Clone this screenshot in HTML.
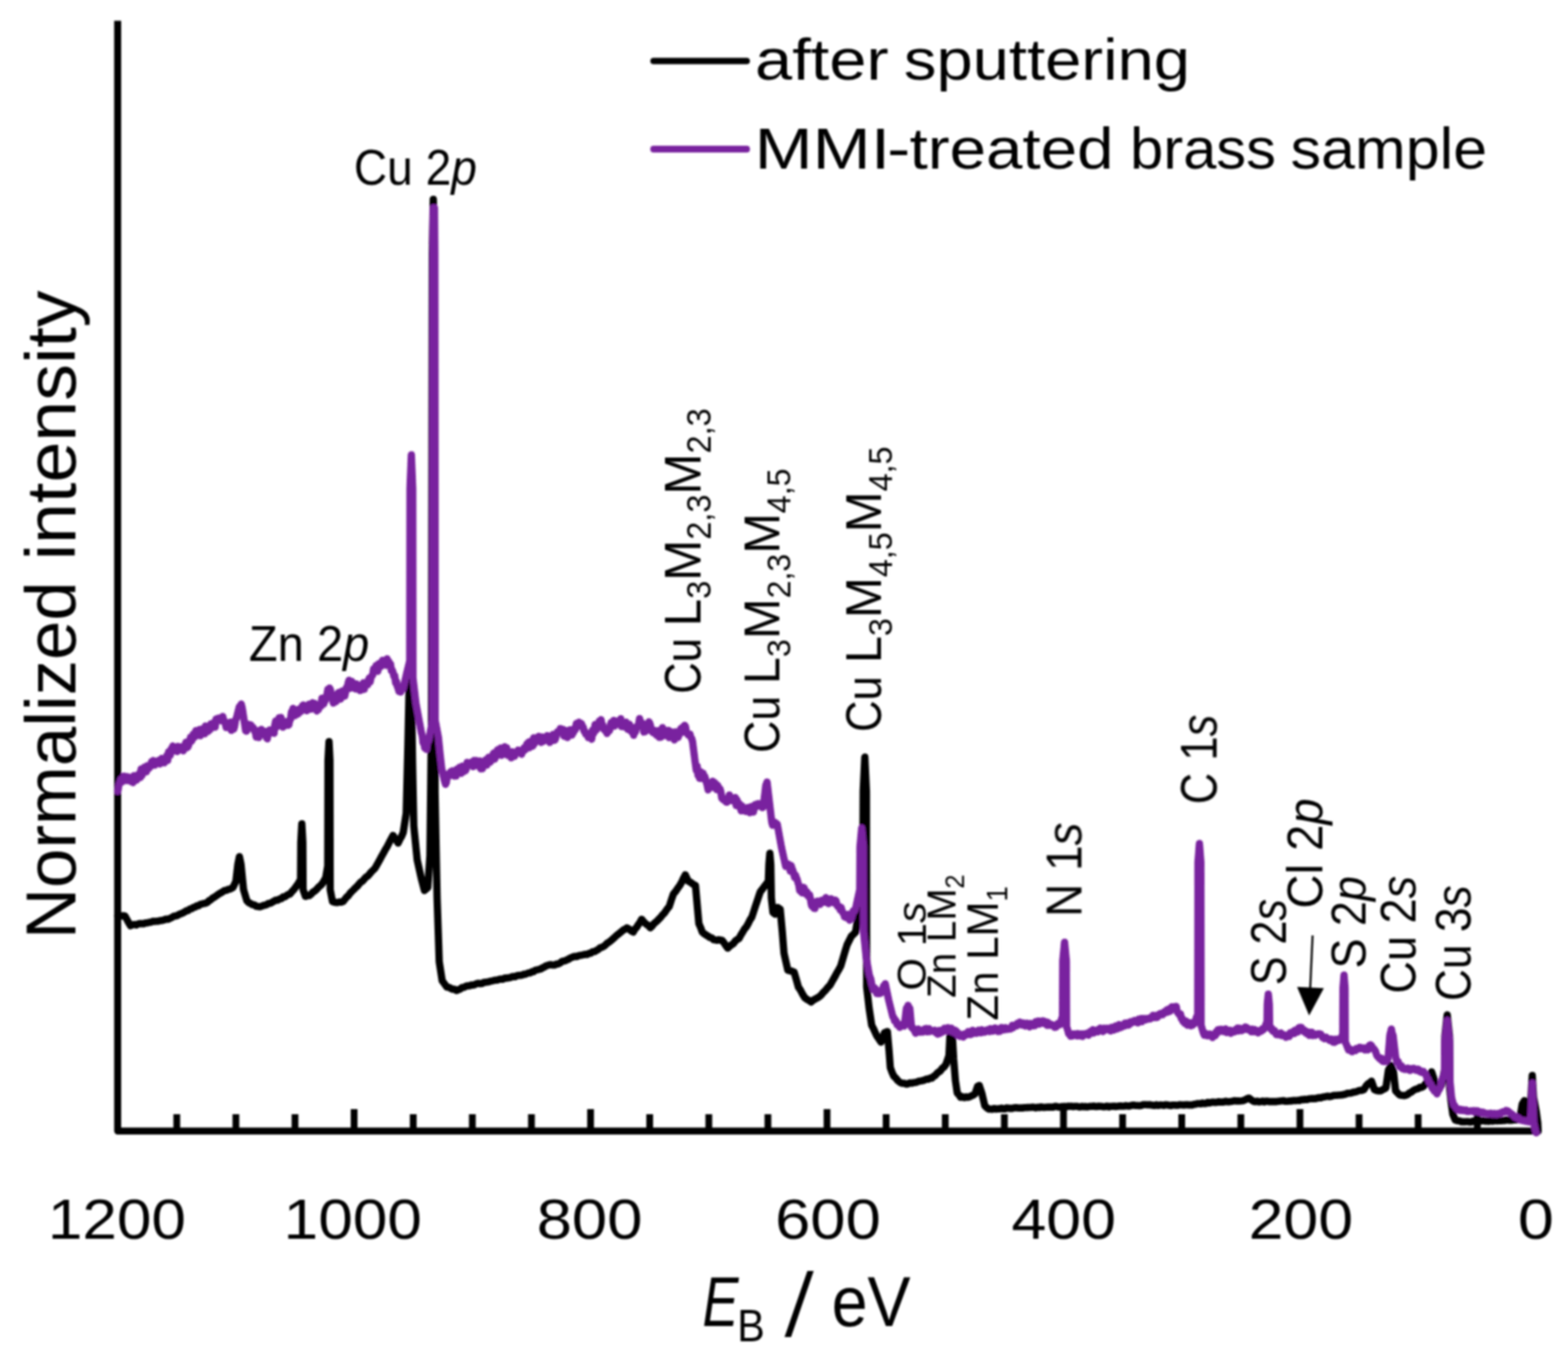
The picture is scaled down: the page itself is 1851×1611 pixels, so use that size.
<!DOCTYPE html>
<html lang="en"><head><meta charset="utf-8"><title>XPS survey spectra</title>
<style>html,body{margin:0;padding:0;background:#fff}body{width:1851px;height:1611px;overflow:hidden}svg{display:block}</style>
</head><body>
<svg width="1851" height="1611" viewBox="0 0 1851 1611">
<defs><filter id="soft" x="-2%" y="-2%" width="104%" height="104%"><feGaussianBlur stdDeviation="1.1"/></filter></defs>
<rect width="1851" height="1611" fill="#fff"/>
<g filter="url(#soft)">
<g font-family='"Liberation Sans", sans-serif' fill="#000">
<text transform="translate(891.24,94.40) scale(0.7892,0.6884)" font-size="100" xml:space="preserve">after</text>
<text transform="translate(1067.09,94.40) scale(0.7693,0.6884)" font-size="100" xml:space="preserve">sputtering</text>
<text transform="translate(890.71,198.50) scale(0.8243,0.6841)" font-size="100" xml:space="preserve">MMI</text>
<text transform="translate(1047.22,198.50) scale(0.8200,0.6841)" font-size="100" xml:space="preserve">-</text>
<text transform="translate(1073.75,198.50) scale(0.7739,0.6884)" font-size="100" xml:space="preserve">treated</text>
<text transform="translate(1334.07,198.50) scale(0.7043,0.6884)" font-size="100" xml:space="preserve">brass</text>
<text transform="translate(1523.54,198.50) scale(0.7194,0.6884)" font-size="100" xml:space="preserve">sample</text>
<text transform="translate(56.53,1462.00) scale(0.7333,0.6648)" font-size="100" xml:space="preserve">1200</text>
<text transform="translate(334.83,1462.00) scale(0.7338,0.6648)" font-size="100" xml:space="preserve">1000</text>
<text transform="translate(633.40,1462.00) scale(0.7503,0.6648)" font-size="100" xml:space="preserve">800</text>
<text transform="translate(914.96,1462.00) scale(0.7481,0.6648)" font-size="100" xml:space="preserve">600</text>
<text transform="translate(1193.92,1462.00) scale(0.7410,0.6648)" font-size="100" xml:space="preserve">400</text>
<text transform="translate(1474.00,1462.00) scale(0.7392,0.6648)" font-size="100" xml:space="preserve">200</text>
<text transform="translate(1791.73,1462.00) scale(0.7667,0.6648)" font-size="100" xml:space="preserve">0</text>
<text transform="translate(829.28,1565.00) scale(0.6385,0.8304)" font-size="100" xml:space="preserve"><tspan font-style="italic">E</tspan></text>
<text transform="translate(870.29,1583.00) scale(0.4887,0.5435)" font-size="100" xml:space="preserve">B</text>
<text transform="translate(926.20,1576.54) scale(0.9714,1.0630) skewX(-6)" font-size="100" xml:space="preserve">/</text>
<text transform="translate(981.65,1565.00) scale(0.7636,0.8304)" font-size="100" xml:space="preserve">eV</text>
<text transform="translate(89.40,1108.28) rotate(-90) scale(0.8350,0.8420)" font-size="100" xml:space="preserve">Normalized</text>
<text transform="translate(89.40,661.18) rotate(-90) scale(0.8680,0.8420)" font-size="100" xml:space="preserve">intensity</text>
<text transform="translate(417.78,218.00) scale(0.5444,0.5859)" font-size="100" xml:space="preserve">Cu 2<tspan font-style="italic">p</tspan></text>
<text transform="translate(293.83,780.30) scale(0.5562,0.5857)" font-size="100" xml:space="preserve">Zn 2<tspan font-style="italic">p</tspan></text>
<text transform="translate(826.50,819.09) rotate(-90) scale(0.5181,0.6056)" font-size="100" xml:space="preserve">Cu</text>
<text transform="translate(826.50,739.15) rotate(-90) scale(0.5817,0.6056)" font-size="100" xml:space="preserve"><tspan dy="0">L</tspan><tspan font-size="66" dy="21">3</tspan><tspan dy="-21">M</tspan><tspan font-size="66" dy="21">2,3</tspan><tspan dy="-21">M</tspan><tspan font-size="66" dy="21">2,3</tspan></text>
<text transform="translate(920.00,888.75) rotate(-90) scale(0.5293,0.5972)" font-size="100" xml:space="preserve">Cu</text>
<text transform="translate(920.00,807.40) rotate(-90) scale(0.5755,0.5972)" font-size="100" xml:space="preserve"><tspan dy="0">L</tspan><tspan font-size="66" dy="21">3</tspan><tspan dy="-21">M</tspan><tspan font-size="66" dy="21">2,3</tspan><tspan dy="-21">M</tspan><tspan font-size="66" dy="21">4,5</tspan></text>
<text transform="translate(1040.20,864.09) rotate(-90) scale(0.5181,0.5972)" font-size="100" xml:space="preserve">Cu</text>
<text transform="translate(1040.20,782.83) rotate(-90) scale(0.5785,0.5972)" font-size="100" xml:space="preserve"><tspan dy="0">L</tspan><tspan font-size="66" dy="21">3</tspan><tspan dy="-21">M</tspan><tspan font-size="66" dy="21">4,5</tspan><tspan dy="-21">M</tspan><tspan font-size="66" dy="21">4,5</tspan></text>
<text transform="translate(1093.00,1169.07) rotate(-90) scale(0.4946,0.4789)" font-size="100" xml:space="preserve">O 1<tspan font-style="italic">s</tspan></text>
<text transform="translate(1128.00,1177.67) rotate(-90) scale(0.4551,0.4797)" font-size="100" xml:space="preserve"><tspan dy="0">Zn LM</tspan><tspan font-size="66" dy="21">2</tspan></text>
<text transform="translate(1178.00,1204.39) rotate(-90) scale(0.4959,0.5261)" font-size="100" xml:space="preserve"><tspan dy="0">Zn LM</tspan><tspan font-size="66" dy="21">1</tspan></text>
<text transform="translate(1276.40,1082.14) rotate(-90) scale(0.5421,0.5957)" font-size="100" xml:space="preserve">N 1<tspan font-style="italic">s</tspan></text>
<text transform="translate(1436.20,949.17) rotate(-90) scale(0.5141,0.6042)" font-size="100" xml:space="preserve">C 1<tspan font-style="italic">s</tspan></text>
<text transform="translate(1518.20,1162.74) rotate(-90) scale(0.5083,0.5873)" font-size="100" xml:space="preserve">S 2<tspan font-style="italic">s</tspan></text>
<text transform="translate(1561.00,1072.29) rotate(-90) scale(0.5573,0.5944)" font-size="100" xml:space="preserve">Cl 2<tspan font-style="italic">p</tspan></text>
<text transform="translate(1612.00,1142.95) rotate(-90) scale(0.5294,0.5775)" font-size="100" xml:space="preserve">S 2<tspan font-style="italic">p</tspan></text>
<text transform="translate(1670.60,1172.76) rotate(-90) scale(0.5327,0.6014)" font-size="100" xml:space="preserve">Cu 2<tspan font-style="italic">s</tspan></text>
<text transform="translate(1736.00,1181.42) rotate(-90) scale(0.5232,0.5944)" font-size="100" xml:space="preserve">Cu 3<tspan font-style="italic">s</tspan></text>
</g>
<path d="M1549.5,1104 L1546.6,1168" stroke="#000" stroke-width="2.4" fill="none"/>
<path d="M1531.2,1164.7 L1562.8,1166.3 L1545.4,1198.5 Z" fill="#000"/>
<path d="M138.9,24.5 V1334.8 H1817.6000000000001" fill="none" stroke="#000" stroke-width="8.3" stroke-linejoin="round" stroke-linecap="butt"/>
<path d="M208.68,1334.8 V1315 M278.47,1334.8 V1315 M348.25,1334.8 V1315 M418.03,1334.8 V1309 M487.82,1334.8 V1315 M557.60,1334.8 V1315 M627.38,1334.8 V1315 M697.17,1334.8 V1309 M766.95,1334.8 V1315 M836.73,1334.8 V1315 M906.52,1334.8 V1315 M976.30,1334.8 V1309 M1046.08,1334.8 V1315 M1115.87,1334.8 V1315 M1185.65,1334.8 V1315 M1255.43,1334.8 V1309 M1325.22,1334.8 V1315 M1395.00,1334.8 V1315 M1464.78,1334.8 V1315 M1534.57,1334.8 V1309 M1604.35,1334.8 V1315 M1674.13,1334.8 V1315 M1743.92,1334.8 V1315 " fill="none" stroke="#000" stroke-width="8"/>
<path d="M139.0,1081.0 L141.1,1080.7 L143.2,1081.1 L145.4,1080.8 L147.5,1081.0 L149.7,1085.0 L151.8,1088.8 L154.0,1092.5 L156.2,1091.6 L158.5,1091.1 L160.8,1091.7 L163.0,1090.5 L165.2,1090.1 L167.5,1090.0 L169.6,1090.2 L171.8,1089.3 L173.9,1089.3 L176.1,1088.5 L178.2,1088.4 L180.4,1087.4 L182.5,1087.5 L184.6,1087.3 L186.8,1087.2 L188.9,1086.5 L191.1,1086.4 L193.2,1085.9 L195.4,1084.8 L197.5,1085.0 L199.5,1084.5 L201.5,1083.5 L203.5,1082.4 L205.5,1081.2 L207.5,1081.0 L209.6,1080.4 L211.7,1079.0 L213.8,1078.3 L215.8,1077.5 L217.9,1076.3 L220.0,1075.0 L222.1,1074.5 L224.2,1072.9 L226.2,1072.4 L228.3,1070.9 L230.4,1070.5 L232.5,1069.0 L234.5,1068.9 L236.5,1067.3 L238.5,1066.8 L240.5,1066.3 L242.5,1066.0 L244.6,1065.1 L246.7,1063.1 L248.8,1061.9 L250.8,1060.1 L252.9,1058.9 L255.0,1057.5 L257.0,1056.1 L259.0,1054.7 L261.0,1053.7 L263.0,1052.4 L265.0,1051.0 L267.0,1050.8 L269.0,1049.8 L271.0,1049.4 L273.0,1048.6 L275.0,1047.5 L278.5,1040.0 L280.8,1020.0 L282.6,1011.0 L284.5,1020.0 L287.5,1050.0 L291.4,1063.0 L293.4,1065.1 L295.5,1066.2 L297.5,1067.5 L300.0,1067.9 L302.5,1069.6 L305.0,1070.0 L307.0,1070.1 L309.0,1069.5 L311.0,1068.6 L313.0,1068.3 L315.0,1067.5 L317.1,1066.2 L319.3,1066.0 L321.4,1064.8 L323.6,1063.5 L325.7,1062.3 L327.9,1062.4 L330.0,1061.0 L332.1,1060.6 L334.2,1058.5 L336.2,1058.4 L338.3,1056.9 L340.4,1055.6 L342.5,1055.0 L344.7,1052.1 L346.8,1050.0 L349.0,1047.0 L351.9,1042.9 L354.8,1038.0 L355.1,994.2 L356.3,972.2 L357.5,994.2 L357.8,1050.0 L360.6,1058.0 L362.8,1057.0 L365.0,1057.0 L367.2,1055.3 L369.4,1052.8 L371.6,1051.7 L373.8,1049.6 L376.2,1046.9 L378.6,1045.0 L381.0,1042.0 L384.5,1036.0 L386.9,1022.0 L387.2,897.2 L388.4,875.2 L389.5,897.2 L389.8,1050.0 L392.5,1064.0 L396.0,1065.0 L398.2,1065.3 L400.5,1064.5 L402.8,1064.8 L405.0,1064.0 L407.1,1061.4 L409.2,1058.8 L411.2,1057.1 L413.3,1054.1 L415.4,1052.0 L417.5,1050.0 L419.6,1047.8 L421.7,1046.0 L423.8,1043.3 L425.8,1041.1 L427.9,1040.0 L430.0,1037.5 L432.1,1035.2 L434.2,1033.9 L436.2,1031.7 L438.3,1029.0 L440.4,1027.0 L442.5,1025.0 L444.6,1021.3 L446.7,1017.7 L448.8,1013.9 L450.8,1010.1 L452.9,1006.4 L455.0,1002.5 L457.2,998.9 L459.5,994.3 L461.8,990.0 L464.0,986.0 L466.0,989.3 L468.0,991.7 L470.0,995.0 L472.0,990.6 L474.0,987.2 L476.0,982.5 L479.5,960.0 L481.5,880.0 L483.0,810.0 L485.5,800.0 L487.0,900.0 L488.5,975.0 L492.5,1015.0 L497.5,1037.5 L501.0,1051.0 L503.0,1049.3 L505.0,1047.5 L507.5,1010.0 L509.4,850.0 L510.3,300.0 L511.5,235.2 L512.7,300.0 L513.6,935.0 L516.0,1060.0 L518.5,1135.0 L522.0,1157.5 L524.8,1161.3 L527.5,1165.0 L529.8,1165.2 L532.1,1166.5 L534.4,1167.5 L536.7,1167.6 L539.0,1169.0 L541.2,1168.1 L543.4,1167.2 L545.6,1165.5 L547.8,1165.2 L550.0,1164.0 L552.1,1163.5 L554.2,1163.4 L556.2,1162.6 L558.3,1162.6 L560.4,1162.2 L562.5,1160.9 L564.6,1160.6 L566.7,1160.9 L568.8,1160.8 L570.8,1159.5 L572.9,1159.4 L575.0,1159.0 L577.1,1158.7 L579.2,1158.0 L581.2,1157.6 L583.3,1157.1 L585.4,1156.8 L587.5,1156.6 L589.6,1155.8 L591.7,1155.5 L593.8,1155.6 L595.8,1154.3 L597.9,1154.5 L600.0,1154.0 L602.0,1153.9 L604.0,1153.0 L606.0,1152.5 L608.0,1152.8 L610.0,1151.7 L612.0,1151.2 L614.0,1151.1 L616.0,1151.0 L618.0,1149.9 L620.0,1150.0 L622.0,1149.0 L624.0,1148.3 L626.0,1148.2 L628.0,1146.9 L630.0,1146.7 L632.0,1145.1 L634.0,1144.6 L636.0,1144.2 L638.0,1143.7 L640.0,1142.5 L642.5,1141.3 L645.0,1139.8 L647.5,1139.0 L650.0,1138.5 L652.5,1139.0 L655.0,1139.0 L657.0,1137.7 L659.0,1137.6 L661.0,1136.7 L663.0,1135.0 L665.0,1134.2 L667.0,1134.0 L669.0,1132.9 L671.0,1132.2 L673.0,1130.7 L675.0,1130.0 L677.0,1129.1 L679.1,1128.8 L681.1,1129.0 L683.2,1127.9 L685.2,1127.5 L687.3,1127.2 L689.3,1126.7 L691.4,1126.3 L693.4,1126.4 L695.5,1125.0 L697.5,1125.0 L699.7,1123.2 L701.9,1123.0 L704.1,1121.7 L706.2,1120.6 L708.4,1118.7 L710.6,1118.0 L712.8,1116.8 L715.0,1115.0 L717.1,1112.9 L719.3,1111.7 L721.4,1110.0 L723.6,1108.1 L725.7,1106.1 L727.9,1104.0 L730.0,1102.5 L732.0,1100.8 L734.0,1099.2 L736.0,1097.5 L738.0,1096.6 L740.0,1095.0 L742.5,1096.4 L745.0,1098.7 L747.5,1100.0 L749.5,1096.5 L751.5,1094.5 L753.5,1091.2 L755.5,1088.5 L757.5,1085.0 L759.5,1087.5 L761.5,1089.5 L763.5,1091.1 L765.5,1092.4 L767.5,1095.0 L769.6,1093.2 L771.7,1090.4 L773.8,1088.5 L775.8,1086.9 L777.9,1084.6 L780.0,1082.5 L782.0,1079.9 L784.0,1078.0 L786.0,1075.1 L788.0,1072.3 L790.0,1070.0 L792.5,1062.2 L795.0,1055.0 L797.5,1052.1 L800.0,1048.3 L802.5,1045.0 L804.7,1041.2 L806.8,1036.5 L809.0,1032.5 L812.5,1040.0 L814.6,1040.9 L816.8,1042.5 L818.9,1044.1 L821.0,1045.0 L825.0,1090.0 L827.0,1094.6 L829.0,1100.0 L831.2,1101.9 L833.5,1103.5 L835.8,1104.9 L838.0,1106.4 L840.2,1106.9 L842.5,1109.0 L844.5,1109.4 L846.5,1109.8 L848.5,1109.1 L850.5,1109.5 L852.5,1110.0 L854.7,1112.7 L856.8,1116.0 L859.0,1119.0 L861.2,1117.0 L863.5,1115.1 L865.8,1113.6 L868.0,1110.7 L870.2,1108.9 L872.5,1107.5 L874.6,1103.5 L876.8,1099.9 L878.9,1096.3 L881.1,1093.8 L883.2,1090.1 L885.4,1085.6 L887.5,1082.5 L889.5,1076.5 L891.5,1070.3 L893.5,1064.3 L895.5,1058.3 L897.5,1052.5 L899.7,1049.8 L901.8,1046.9 L904.0,1044.0 L907.0,1040.0 L907.7,1020.0 L908.8,1007.0 L909.9,1020.0 L910.6,1060.0 L912.5,1077.0 L915.0,1079.0 L918.0,1071.0 L921.0,1073.0 L923.5,1100.0 L925.5,1125.0 L930.0,1145.0 L932.5,1145.7 L935.0,1146.3 L937.5,1147.5 L940.0,1156.0 L942.5,1165.0 L945.0,1168.7 L947.5,1173.4 L950.0,1177.5 L952.5,1179.4 L955.0,1180.7 L957.5,1182.5 L959.5,1180.7 L961.5,1179.5 L963.5,1178.4 L965.5,1177.4 L967.5,1176.0 L969.6,1174.1 L971.7,1171.4 L973.8,1169.6 L975.8,1167.1 L977.9,1164.7 L980.0,1162.5 L982.1,1158.6 L984.2,1155.0 L986.2,1151.5 L988.3,1147.4 L990.4,1144.0 L992.5,1140.0 L995.0,1131.6 L997.5,1123.0 L1000.0,1115.0 L1002.5,1110.0 L1005.0,1105.0 L1007.5,1102.7 L1010.0,1100.0 L1014.0,1075.0 L1017.0,1040.0 L1018.7,1000.0 L1019.0,933.6 L1020.9,893.6 L1022.8,933.6 L1023.1,1165.0 L1026.0,1190.0 L1029.0,1210.0 L1031.0,1213.7 L1033.0,1218.2 L1035.0,1222.5 L1037.5,1226.2 L1040.0,1230.0 L1042.0,1225.0 L1044.0,1219.0 L1047.5,1217.5 L1049.5,1240.0 L1051.0,1260.0 L1053.0,1265.5 L1055.0,1270.0 L1057.5,1272.3 L1060.0,1275.5 L1062.5,1277.5 L1065.0,1278.5 L1067.5,1278.5 L1070.0,1279.5 L1072.1,1279.0 L1074.3,1278.0 L1076.4,1278.4 L1078.6,1277.7 L1080.7,1277.5 L1082.9,1276.9 L1085.0,1276.0 L1087.1,1275.7 L1089.3,1275.3 L1091.4,1274.6 L1093.6,1273.5 L1095.7,1273.6 L1097.9,1272.4 L1100.0,1272.5 L1102.0,1270.4 L1104.0,1269.4 L1106.0,1266.9 L1108.0,1265.2 L1110.0,1264.0 L1112.3,1260.9 L1114.5,1259.1 L1116.8,1256.0 L1120.2,1246.0 L1121.3,1224.0 L1122.8,1214.5 L1124.3,1224.0 L1125.8,1250.0 L1127.8,1275.0 L1130.0,1290.0 L1132.0,1292.1 L1134.0,1295.0 L1136.1,1294.4 L1138.2,1295.4 L1140.4,1294.5 L1142.5,1295.0 L1144.6,1294.4 L1146.8,1293.2 L1148.9,1292.4 L1151.0,1291.0 L1154.0,1282.0 L1156.0,1281.0 L1159.0,1290.0 L1162.5,1305.0 L1165.0,1307.5 L1167.5,1309.0 L1169.6,1309.0 L1171.7,1309.2 L1173.8,1308.2 L1175.8,1309.0 L1177.9,1308.6 L1180.0,1308.8 L1182.1,1307.9 L1184.2,1308.6 L1186.2,1308.8 L1188.3,1307.6 L1190.4,1307.9 L1192.5,1308.1 L1194.6,1308.3 L1196.7,1307.5 L1198.8,1307.4 L1200.8,1307.4 L1202.9,1307.7 L1205.0,1307.5 L1207.0,1307.7 L1209.0,1307.3 L1211.0,1307.2 L1213.0,1307.1 L1215.0,1307.0 L1217.0,1307.0 L1219.0,1306.6 L1221.0,1307.0 L1223.0,1307.5 L1225.0,1306.8 L1227.0,1307.1 L1229.0,1306.4 L1231.0,1306.9 L1233.0,1307.0 L1235.0,1306.8 L1237.0,1306.6 L1239.0,1306.5 L1241.0,1306.6 L1243.0,1306.8 L1245.0,1305.9 L1247.0,1305.8 L1249.0,1306.5 L1251.0,1306.6 L1253.0,1306.1 L1255.0,1306.0 L1257.0,1305.9 L1259.0,1306.3 L1261.0,1305.6 L1263.0,1305.7 L1265.0,1305.6 L1267.0,1306.1 L1269.0,1305.8 L1271.0,1305.7 L1273.0,1306.2 L1275.0,1306.5 L1277.0,1305.8 L1279.0,1306.2 L1281.0,1305.9 L1283.0,1306.4 L1285.0,1306.1 L1287.0,1305.7 L1289.0,1305.7 L1291.0,1305.4 L1293.0,1306.0 L1295.0,1305.9 L1297.0,1305.6 L1299.0,1305.8 L1301.0,1305.8 L1303.0,1306.3 L1305.0,1306.0 L1307.0,1305.5 L1309.0,1306.4 L1311.0,1305.7 L1313.0,1305.8 L1315.0,1305.6 L1317.0,1305.9 L1319.0,1305.8 L1321.0,1305.4 L1323.0,1305.3 L1325.0,1305.5 L1327.0,1305.5 L1329.0,1304.9 L1331.0,1305.2 L1333.0,1305.4 L1335.0,1304.8 L1337.0,1304.4 L1339.0,1304.3 L1341.0,1304.8 L1343.0,1304.7 L1345.0,1305.0 L1347.0,1304.7 L1349.0,1303.9 L1351.0,1303.8 L1353.0,1303.8 L1355.0,1304.0 L1357.1,1303.7 L1359.2,1304.3 L1361.2,1304.6 L1363.3,1304.6 L1365.4,1303.9 L1367.5,1304.7 L1369.6,1304.1 L1371.7,1304.2 L1373.8,1304.6 L1375.8,1303.9 L1377.9,1304.0 L1380.0,1304.5 L1382.1,1304.9 L1384.2,1304.2 L1386.2,1304.2 L1388.3,1304.4 L1390.4,1304.5 L1392.5,1303.7 L1394.6,1304.0 L1396.7,1304.1 L1398.8,1304.1 L1400.8,1303.7 L1402.9,1304.1 L1405.0,1304.0 L1407.1,1304.3 L1409.2,1303.4 L1411.2,1303.3 L1413.3,1302.5 L1415.4,1302.5 L1417.5,1302.7 L1419.6,1301.8 L1421.7,1302.5 L1423.8,1302.2 L1425.8,1301.0 L1427.9,1301.8 L1430.0,1301.0 L1432.1,1300.7 L1434.2,1301.1 L1436.2,1301.0 L1438.3,1300.3 L1440.4,1300.7 L1442.5,1300.5 L1444.6,1300.6 L1446.7,1299.8 L1448.8,1300.3 L1450.8,1300.4 L1452.9,1300.0 L1455.0,1299.7 L1457.1,1299.1 L1459.2,1299.4 L1461.2,1299.2 L1463.3,1299.5 L1465.4,1299.3 L1467.5,1299.0 L1469.8,1298.1 L1472.2,1296.6 L1474.5,1296.0 L1477.2,1298.2 L1480.0,1300.0 L1482.1,1300.2 L1484.2,1299.6 L1486.2,1300.5 L1488.3,1300.2 L1490.4,1299.5 L1492.5,1300.5 L1494.6,1299.6 L1496.7,1299.8 L1498.8,1300.3 L1500.8,1300.1 L1502.9,1300.1 L1505.0,1300.0 L1507.1,1300.1 L1509.2,1299.8 L1511.2,1299.5 L1513.3,1299.3 L1515.4,1299.1 L1517.5,1299.8 L1519.6,1299.7 L1521.7,1299.4 L1523.8,1299.5 L1525.8,1299.0 L1527.9,1298.8 L1530.0,1299.0 L1532.1,1298.6 L1534.2,1298.9 L1536.2,1297.7 L1538.3,1298.0 L1540.4,1297.4 L1542.5,1297.8 L1544.6,1297.1 L1546.7,1296.8 L1548.8,1296.6 L1550.8,1296.5 L1552.9,1296.6 L1555.0,1296.0 L1557.1,1295.5 L1559.2,1295.8 L1561.2,1294.7 L1563.3,1294.6 L1565.4,1294.1 L1567.5,1293.8 L1569.6,1294.3 L1571.7,1293.9 L1573.8,1293.0 L1575.8,1292.7 L1577.9,1292.7 L1580.0,1292.5 L1582.1,1292.4 L1584.3,1292.2 L1586.4,1291.7 L1588.6,1291.2 L1590.7,1290.3 L1592.9,1290.2 L1595.0,1290.0 L1597.1,1289.1 L1599.3,1288.9 L1601.4,1288.4 L1603.6,1287.4 L1605.7,1286.8 L1607.9,1286.9 L1610.0,1286.0 L1612.5,1281.9 L1615.0,1279.0 L1617.0,1277.9 L1619.0,1276.0 L1622.5,1286.0 L1625.0,1287.0 L1627.5,1287.5 L1630.0,1287.5 L1632.0,1286.2 L1634.0,1285.2 L1636.0,1284.0 L1639.0,1263.0 L1642.0,1257.5 L1645.0,1265.0 L1647.5,1287.5 L1650.0,1290.1 L1652.5,1292.5 L1655.0,1292.7 L1657.5,1293.1 L1660.0,1292.5 L1662.0,1291.4 L1664.0,1289.7 L1666.0,1289.0 L1668.0,1287.3 L1670.0,1286.0 L1672.0,1285.4 L1674.0,1284.9 L1676.0,1283.3 L1678.0,1283.5 L1680.0,1282.5 L1682.0,1280.2 L1684.0,1277.5 L1686.0,1275.0 L1688.0,1270.0 L1690.0,1265.0 L1692.5,1272.5 L1696.0,1290.0 L1698.0,1286.6 L1700.0,1283.0 L1702.0,1280.0 L1705.4,1262.0 L1705.7,1222.8 L1708.4,1197.8 L1711.1,1222.8 L1711.4,1285.0 L1713.0,1300.0 L1715.0,1315.0 L1718.0,1322.0 L1720.3,1322.7 L1722.7,1322.8 L1725.0,1324.0 L1727.0,1323.9 L1729.0,1324.0 L1731.0,1323.7 L1733.0,1323.8 L1735.0,1324.2 L1737.0,1324.1 L1739.0,1323.1 L1741.0,1323.8 L1743.0,1323.5 L1745.0,1322.8 L1747.0,1323.1 L1749.0,1322.9 L1751.0,1322.6 L1753.0,1323.1 L1755.0,1323.0 L1757.1,1323.4 L1759.2,1322.6 L1761.2,1323.2 L1763.3,1322.9 L1765.4,1322.1 L1767.5,1322.9 L1769.6,1322.5 L1771.7,1322.8 L1773.8,1322.5 L1775.8,1322.5 L1777.9,1321.9 L1780.0,1322.0 L1782.0,1322.2 L1784.0,1322.2 L1786.0,1322.0 L1788.0,1321.4 L1790.0,1321.6 L1792.0,1321.1 L1794.0,1321.0 L1797.0,1303.0 L1799.5,1299.0 L1801.5,1315.0 L1805.0,1315.0 L1807.3,1295.0 L1808.8,1269.2 L1810.3,1295.0 L1813.5,1312.0 L1815.3,1325.0 L1815.8,1335.0" fill="none" stroke="#000" stroke-width="8.6" stroke-linejoin="round" stroke-linecap="round"/>
<path d="M139.0,934.0 L140.5,926.0 L141.6,922.8 L142.8,919.5 L143.9,923.0 L145.0,920.0 L146.0,916.0 L147.0,920.9 L148.0,919.4 L149.0,916.6 L150.0,921.3 L151.0,916.9 L152.0,921.1 L153.0,917.7 L154.0,918.2 L155.0,922.5 L156.1,920.7 L157.1,923.6 L158.2,915.5 L159.3,915.5 L160.4,918.4 L161.4,920.6 L162.5,915.0 L163.5,915.0 L164.6,912.5 L165.6,917.6 L166.6,907.5 L167.6,914.9 L168.7,908.5 L169.7,906.3 L170.7,905.3 L171.8,906.4 L172.8,910.9 L173.8,903.7 L174.9,907.0 L175.9,906.9 L176.9,903.4 L177.9,904.5 L179.0,898.8 L180.0,902.5 L181.0,897.6 L182.0,898.6 L183.0,903.0 L184.0,900.0 L185.0,898.4 L186.0,900.8 L187.0,899.0 L188.0,897.0 L189.0,901.6 L190.0,900.2 L191.0,895.1 L192.0,898.1 L193.0,897.1 L194.0,900.3 L195.0,896.0 L196.0,897.2 L197.0,891.4 L198.0,897.4 L199.0,887.2 L200.0,889.1 L201.0,891.5 L202.0,884.0 L203.0,886.3 L204.0,880.4 L205.0,884.0 L206.0,885.5 L207.1,886.3 L208.1,884.1 L209.1,887.0 L210.1,880.9 L211.2,884.6 L212.2,883.3 L213.2,883.0 L214.3,881.4 L215.3,885.2 L216.3,886.1 L217.4,880.9 L218.4,882.7 L219.4,876.1 L220.4,882.6 L221.5,881.8 L222.5,880.0 L225.0,870.0 L226.0,874.8 L227.1,872.6 L228.1,866.4 L229.2,867.1 L230.2,869.7 L231.2,862.4 L232.3,866.7 L233.3,863.1 L234.4,862.1 L235.4,861.1 L236.5,868.3 L237.5,865.0 L238.5,860.3 L239.6,860.8 L240.6,861.6 L241.7,866.0 L242.7,856.7 L243.8,860.0 L244.8,860.3 L245.8,863.1 L246.9,861.7 L247.9,861.4 L249.0,854.3 L250.0,856.0 L251.0,854.4 L252.0,853.1 L253.0,858.1 L254.0,858.2 L255.0,848.7 L256.0,848.3 L257.0,848.2 L258.0,847.5 L259.0,849.5 L260.0,849.0 L261.0,850.6 L262.0,847.7 L263.0,845.6 L264.0,850.8 L265.0,850.9 L266.0,853.7 L267.0,858.6 L268.0,856.4 L269.0,855.2 L270.0,856.9 L271.0,858.2 L272.0,852.2 L273.0,862.0 L274.0,861.4 L275.0,859.0 L276.0,860.3 L277.0,856.7 L278.0,849.6 L279.0,848.0 L282.5,834.0 L283.7,833.5 L284.8,830.9 L286.0,836.0 L290.0,862.5 L291.0,862.9 L292.0,855.8 L293.0,854.8 L294.0,855.3 L295.0,857.5 L296.1,855.6 L297.1,859.3 L298.2,858.0 L299.3,859.3 L300.4,862.7 L301.4,864.0 L302.5,870.0 L303.5,867.3 L304.5,862.5 L305.5,870.4 L306.5,866.4 L307.5,864.0 L308.5,860.9 L309.5,862.7 L310.5,864.5 L311.5,865.3 L312.5,867.5 L313.5,863.2 L314.5,870.7 L315.5,872.0 L316.5,866.1 L317.5,866.1 L318.5,861.6 L319.5,861.5 L320.5,863.8 L321.5,862.7 L322.5,865.0 L323.5,865.5 L324.5,855.3 L325.5,850.8 L326.5,857.9 L327.5,850.0 L328.5,850.8 L329.6,847.1 L330.6,852.0 L331.7,846.8 L332.7,852.8 L333.8,858.2 L334.8,857.5 L335.8,856.1 L336.9,851.9 L337.9,853.6 L339.0,851.9 L340.0,856.0 L341.0,855.6 L342.0,849.6 L343.0,848.9 L344.0,840.5 L345.0,839.0 L346.0,836.0 L347.0,842.7 L348.0,844.7 L349.0,843.3 L350.0,842.9 L351.0,843.1 L352.0,842.4 L353.0,836.8 L354.0,840.1 L355.0,840.0 L356.0,837.5 L357.0,833.0 L358.0,832.1 L359.0,833.9 L360.0,832.8 L361.0,836.7 L362.0,838.8 L363.0,832.2 L364.0,836.8 L365.0,831.0 L366.0,836.9 L367.0,836.9 L368.0,830.7 L369.0,829.5 L370.0,830.0 L371.0,830.0 L372.0,830.5 L373.0,835.6 L374.0,839.1 L375.0,835.0 L376.0,837.5 L377.0,832.3 L378.0,833.0 L379.0,833.4 L380.0,824.1 L381.0,829.3 L382.0,830.9 L383.0,828.2 L384.0,826.6 L385.0,822.5 L386.0,819.6 L387.0,813.6 L388.0,817.9 L389.0,812.0 L390.2,814.4 L391.3,824.1 L392.5,825.0 L393.5,829.8 L394.6,822.8 L395.6,822.4 L396.7,828.0 L397.7,825.0 L398.8,818.3 L399.8,817.3 L400.8,817.0 L401.9,825.1 L402.9,823.5 L404.0,815.5 L405.0,819.0 L406.0,821.2 L407.0,821.5 L408.0,816.3 L409.0,811.3 L410.0,812.1 L411.0,805.8 L412.0,802.9 L413.0,812.4 L414.0,807.2 L415.0,804.0 L416.0,805.4 L417.0,811.2 L418.0,806.5 L419.0,812.7 L420.0,813.2 L421.0,807.3 L422.0,808.9 L423.0,810.4 L424.0,810.9 L425.0,815.0 L426.0,814.7 L427.0,809.7 L428.0,810.3 L429.0,805.8 L430.0,813.5 L431.0,805.8 L432.0,805.8 L433.0,806.0 L434.0,808.4 L435.0,802.5 L436.0,800.3 L437.0,804.8 L438.0,798.8 L439.0,797.9 L440.0,796.5 L441.0,789.4 L442.0,793.1 L443.0,788.8 L444.0,785.4 L445.0,790.0 L446.1,792.1 L447.1,783.3 L448.2,785.4 L449.3,786.9 L450.4,783.5 L451.4,779.4 L452.5,780.0 L453.6,780.8 L454.6,781.8 L455.7,785.1 L456.8,777.6 L457.9,783.6 L458.9,780.5 L460.0,784.0 L461.0,783.6 L462.0,791.7 L463.0,790.8 L464.0,793.7 L465.0,798.3 L466.0,797.5 L467.0,806.0 L468.0,804.2 L469.0,809.9 L470.0,812.4 L471.0,816.0 L472.0,815.4 L473.0,816.8 L474.0,813.4 L475.0,813.6 L476.0,812.5 L480.0,795.0 L483.7,780.0 L484.0,576.8 L485.6,536.8 L487.2,576.8 L487.5,800.0 L491.0,830.0 L497.5,865.0 L498.5,868.3 L499.5,876.7 L500.5,877.6 L501.5,883.0 L502.5,882.5 L503.5,884.5 L504.5,874.7 L505.5,875.3 L506.5,872.0 L510.6,850.0 L511.0,300.0 L511.4,245.3 L512.9,245.3 L513.3,300.0 L513.7,850.0 L517.5,870.0 L519.5,890.0 L521.5,907.5 L525.0,922.5 L526.0,925.6 L527.0,923.3 L528.0,915.0 L529.0,913.5 L530.0,916.0 L531.1,914.9 L532.1,910.7 L533.2,911.9 L534.3,909.7 L535.4,915.2 L536.4,915.9 L537.5,912.5 L538.5,915.8 L539.5,907.7 L540.5,912.7 L541.5,911.5 L542.5,905.6 L543.5,912.4 L544.5,912.6 L545.5,904.3 L546.5,911.1 L547.5,904.8 L548.5,905.0 L549.5,909.5 L550.5,907.2 L551.5,899.7 L552.5,902.5 L553.5,901.8 L554.5,902.7 L555.5,900.9 L556.5,899.4 L557.5,900.6 L558.5,904.8 L559.5,897.6 L560.5,903.1 L561.5,901.9 L562.5,897.6 L563.5,900.8 L564.5,903.8 L565.5,902.6 L566.5,898.1 L567.5,907.5 L568.5,905.4 L569.5,907.3 L570.5,898.5 L571.5,900.1 L572.5,902.5 L573.6,896.6 L574.6,902.9 L575.7,896.5 L576.8,893.8 L577.9,895.6 L578.9,899.5 L580.0,894.0 L581.0,896.7 L582.0,890.3 L583.0,888.6 L584.0,895.9 L585.0,891.7 L586.0,892.5 L587.0,885.5 L588.0,884.6 L589.0,890.6 L590.0,887.2 L591.0,882.9 L592.0,891.4 L593.0,887.6 L594.0,888.8 L595.0,885.0 L596.0,881.3 L597.1,890.0 L598.1,882.4 L599.2,891.3 L600.2,887.6 L601.2,887.1 L602.3,889.9 L603.3,894.4 L604.4,888.2 L605.4,887.4 L606.5,892.2 L607.5,892.5 L608.5,889.2 L609.6,887.2 L610.6,887.1 L611.7,885.3 L612.7,886.3 L613.8,886.8 L614.8,886.1 L615.8,890.2 L616.9,884.7 L617.9,886.3 L619.0,882.3 L620.0,885.0 L621.0,882.4 L622.0,877.9 L623.0,879.4 L624.0,875.9 L625.0,882.5 L626.0,879.5 L627.0,874.7 L628.0,876.7 L629.0,880.6 L630.0,870.8 L631.0,877.4 L632.0,872.3 L633.0,871.9 L634.0,874.6 L635.0,870.0 L636.0,869.1 L637.0,870.6 L638.0,872.8 L639.0,876.2 L640.0,869.7 L641.0,875.1 L642.0,874.1 L643.0,873.6 L644.0,871.4 L645.0,871.0 L646.0,868.2 L647.0,869.3 L648.0,868.9 L649.0,876.3 L650.0,874.0 L651.0,870.4 L652.1,868.5 L653.1,866.7 L654.2,873.8 L655.2,873.2 L656.2,870.1 L657.3,865.0 L658.3,863.6 L659.4,863.2 L660.4,864.0 L661.5,859.8 L662.5,862.5 L663.5,862.3 L664.6,860.8 L665.6,868.7 L666.7,869.2 L667.7,865.1 L668.8,862.3 L669.8,870.4 L670.8,863.8 L671.9,864.7 L672.9,861.3 L674.0,865.8 L675.0,867.5 L676.1,865.6 L677.1,864.2 L678.2,859.4 L679.3,861.0 L680.4,853.9 L681.4,855.1 L682.5,856.0 L683.5,852.4 L684.5,856.6 L685.5,853.6 L686.5,854.3 L687.5,858.2 L688.5,858.3 L689.5,863.0 L690.5,863.2 L691.5,866.5 L692.5,866.4 L693.5,867.8 L694.5,870.5 L695.5,866.1 L696.5,866.3 L697.5,869.0 L698.5,872.4 L699.5,861.6 L700.5,866.0 L701.5,863.3 L702.5,855.1 L703.5,861.8 L704.5,860.7 L705.5,856.0 L706.5,855.3 L707.5,851.0 L708.5,855.6 L709.5,849.4 L710.5,854.7 L711.5,855.6 L712.5,860.4 L713.5,861.2 L714.5,862.6 L715.5,861.1 L716.5,865.6 L717.5,862.5 L718.5,863.3 L719.5,862.3 L720.5,856.1 L721.5,852.8 L722.5,852.8 L723.5,854.1 L724.5,850.2 L725.5,857.0 L726.5,852.8 L727.5,851.0 L728.5,852.9 L729.6,853.5 L730.6,854.6 L731.7,853.1 L732.7,848.3 L733.8,857.5 L734.8,857.5 L735.8,855.4 L736.9,856.3 L737.9,858.1 L739.0,852.3 L740.0,857.5 L741.0,860.7 L742.0,856.1 L743.0,854.9 L744.0,857.6 L745.0,863.2 L746.0,858.2 L747.0,864.6 L748.0,867.8 L749.0,863.3 L750.0,864.0 L751.0,859.5 L752.0,857.4 L753.0,856.4 L754.0,854.1 L755.0,848.0 L756.0,852.5 L757.0,856.0 L758.0,853.0 L759.0,857.0 L760.0,864.0 L761.0,859.8 L762.0,863.4 L763.0,857.1 L764.0,858.3 L765.0,856.0 L766.0,851.9 L767.0,853.5 L768.0,857.0 L769.0,862.5 L770.0,863.8 L771.0,864.8 L772.0,861.8 L773.0,865.4 L774.0,866.0 L775.0,867.5 L776.0,866.6 L777.0,862.4 L778.0,870.2 L779.0,862.3 L780.0,870.1 L781.0,869.2 L782.0,858.8 L783.0,863.1 L784.0,866.4 L785.0,862.5 L786.0,868.2 L787.0,863.3 L788.0,862.0 L789.0,862.0 L790.0,870.5 L791.0,863.3 L792.0,867.9 L793.0,863.9 L794.0,868.6 L795.0,869.0 L796.1,873.3 L797.1,863.9 L798.2,870.7 L799.3,866.8 L800.4,870.3 L801.4,867.8 L802.5,865.0 L803.7,859.8 L804.8,864.6 L806.0,858.0 L807.1,859.4 L808.2,856.0 L809.2,857.4 L810.3,864.2 L811.4,865.4 L812.5,867.5 L813.5,866.9 L814.5,866.7 L815.5,870.3 L816.5,871.5 L817.5,875.0 L821.0,902.5 L822.0,909.3 L823.0,904.2 L824.0,915.1 L825.0,916.0 L826.0,918.7 L827.0,910.8 L828.0,918.2 L829.0,915.3 L830.0,912.5 L831.0,919.5 L832.0,916.4 L833.0,920.2 L834.0,923.4 L835.0,927.5 L836.0,932.3 L837.0,928.1 L838.0,925.7 L839.0,926.2 L840.0,924.5 L841.0,922.1 L842.0,922.5 L843.0,929.6 L844.0,924.0 L845.0,926.0 L846.0,931.9 L847.0,926.8 L848.0,928.7 L849.0,932.7 L850.0,931.2 L851.0,934.7 L852.0,942.0 L853.0,942.9 L854.0,943.9 L855.0,942.5 L856.0,943.8 L857.0,946.5 L858.0,946.7 L859.0,943.0 L860.0,944.6 L861.0,938.2 L862.0,944.7 L863.0,942.0 L864.0,944.9 L865.0,942.5 L866.0,944.9 L867.0,942.4 L868.0,941.2 L869.0,950.6 L870.0,943.9 L871.0,948.2 L872.0,948.0 L873.0,948.6 L874.0,953.8 L875.0,957.0 L876.0,951.2 L877.0,956.0 L878.0,953.6 L879.0,957.0 L880.0,957.5 L881.0,956.1 L882.1,953.5 L883.1,953.1 L884.2,953.1 L885.2,959.2 L886.2,955.0 L887.3,951.9 L888.3,958.0 L889.4,958.4 L890.4,952.9 L891.5,949.5 L892.5,952.5 L893.6,949.6 L894.6,948.6 L895.7,951.0 L896.8,948.6 L897.8,950.0 L898.9,950.2 L899.9,953.2 L901.0,952.5 L904.0,927.0 L905.5,923.0 L907.5,940.0 L911.0,970.0 L912.1,974.0 L913.2,973.1 L914.2,970.4 L915.3,970.9 L916.4,972.3 L917.5,972.5 L922.5,1000.0 L927.5,1022.5 L928.6,1021.8 L929.6,1021.9 L930.7,1019.9 L931.8,1022.1 L932.9,1028.2 L933.9,1021.5 L935.0,1025.0 L936.0,1027.5 L937.0,1031.1 L938.0,1035.5 L939.0,1032.7 L940.0,1035.6 L941.0,1038.0 L942.0,1041.7 L943.0,1044.6 L944.0,1051.1 L945.0,1050.0 L946.1,1053.1 L947.1,1053.7 L948.2,1047.3 L949.3,1047.7 L950.4,1053.4 L951.4,1055.3 L952.5,1052.5 L953.6,1054.8 L954.6,1058.2 L955.7,1056.1 L956.8,1061.7 L957.9,1068.3 L958.9,1070.0 L960.0,1070.0 L961.0,1072.0 L962.0,1072.1 L963.0,1065.8 L964.0,1064.0 L965.0,1063.6 L966.0,1065.7 L967.0,1066.2 L968.0,1067.4 L969.0,1065.0 L970.0,1062.5 L971.0,1063.7 L972.0,1064.7 L973.0,1062.5 L974.0,1063.3 L975.0,1059.4 L976.0,1065.3 L977.0,1061.1 L978.0,1066.5 L979.0,1064.5 L980.0,1062.0 L981.0,1060.7 L982.0,1061.8 L983.0,1064.9 L984.0,1065.4 L985.0,1064.0 L986.0,1062.4 L987.0,1063.4 L988.0,1068.2 L989.0,1070.0 L990.0,1069.9 L991.0,1070.0 L992.0,1074.2 L993.0,1071.1 L994.0,1074.7 L995.0,1077.5 L996.0,1077.9 L997.0,1082.2 L998.0,1080.5 L999.0,1083.0 L1000.0,1080.6 L1001.0,1079.4 L1002.0,1080.2 L1003.0,1086.1 L1004.0,1084.9 L1005.0,1084.0 L1006.1,1079.8 L1007.2,1074.8 L1008.3,1075.6 L1009.4,1074.1 L1010.5,1070.0 L1014.9,1050.0 L1015.2,999.4 L1017.2,977.4 L1019.2,999.4 L1019.5,1100.0 L1022.5,1130.0 L1026.0,1150.0 L1027.0,1153.0 L1028.0,1155.5 L1029.0,1161.5 L1030.0,1164.0 L1031.0,1168.2 L1032.0,1165.8 L1033.0,1166.4 L1034.0,1169.9 L1035.0,1172.5 L1036.0,1171.6 L1037.0,1172.7 L1038.0,1169.5 L1039.0,1172.5 L1040.0,1171.8 L1041.0,1170.0 L1042.0,1167.8 L1043.0,1163.8 L1044.0,1166.0 L1045.0,1161.0 L1049.0,1180.0 L1054.0,1200.0 L1055.0,1200.7 L1056.0,1204.9 L1057.0,1203.7 L1058.0,1205.3 L1059.0,1209.6 L1060.0,1210.0 L1061.1,1209.1 L1062.1,1212.5 L1063.2,1210.4 L1064.3,1209.1 L1065.4,1209.4 L1066.4,1210.5 L1067.5,1211.0 L1070.0,1190.0 L1071.0,1189.1 L1072.0,1186.5 L1073.0,1190.6 L1074.0,1190.0 L1076.0,1212.5 L1077.0,1212.1 L1078.0,1214.5 L1079.0,1214.9 L1080.0,1217.5 L1081.0,1219.5 L1082.1,1215.4 L1083.1,1214.8 L1084.2,1214.6 L1085.2,1216.0 L1086.2,1218.1 L1087.3,1217.8 L1088.3,1216.9 L1089.4,1218.0 L1090.4,1217.5 L1091.5,1214.4 L1092.5,1215.0 L1093.5,1213.8 L1094.6,1217.7 L1095.6,1217.2 L1096.7,1214.1 L1097.7,1217.4 L1098.8,1216.4 L1099.8,1216.7 L1100.8,1216.9 L1101.9,1216.5 L1102.9,1216.0 L1104.0,1217.6 L1105.0,1219.0 L1106.0,1218.0 L1107.0,1220.5 L1108.0,1216.2 L1109.0,1219.8 L1110.0,1216.0 L1111.0,1216.3 L1112.0,1218.2 L1113.0,1217.8 L1114.0,1215.7 L1115.0,1213.5 L1116.0,1215.2 L1117.0,1214.4 L1118.0,1216.7 L1119.0,1212.9 L1120.0,1214.0 L1121.0,1213.9 L1122.0,1217.0 L1123.0,1213.5 L1124.0,1215.8 L1125.0,1218.3 L1126.0,1218.6 L1127.0,1215.8 L1128.0,1216.4 L1129.0,1217.1 L1130.0,1221.6 L1131.0,1219.1 L1132.0,1221.9 L1133.0,1223.2 L1134.0,1221.2 L1135.0,1222.5 L1136.0,1221.1 L1137.0,1223.9 L1138.0,1222.0 L1139.0,1220.1 L1140.0,1221.8 L1141.0,1219.7 L1142.0,1219.1 L1143.0,1217.5 L1144.0,1220.7 L1145.0,1221.1 L1146.0,1219.5 L1147.0,1220.6 L1148.0,1216.0 L1149.0,1216.6 L1150.0,1217.5 L1151.0,1217.3 L1152.0,1219.5 L1153.0,1219.4 L1154.0,1216.7 L1155.0,1216.0 L1156.0,1216.7 L1157.0,1216.9 L1158.0,1218.9 L1159.0,1215.3 L1160.0,1218.2 L1161.0,1217.8 L1162.0,1218.1 L1163.0,1217.8 L1164.0,1217.0 L1165.0,1215.6 L1166.0,1215.5 L1167.0,1215.6 L1168.0,1217.5 L1169.0,1214.1 L1170.0,1216.0 L1171.0,1214.5 L1172.0,1217.0 L1173.0,1214.5 L1174.0,1213.5 L1175.0,1213.3 L1176.0,1215.6 L1177.0,1214.5 L1178.0,1217.5 L1179.0,1216.9 L1180.0,1217.3 L1181.0,1213.8 L1182.0,1212.8 L1183.0,1212.8 L1184.0,1214.6 L1185.0,1215.5 L1186.0,1214.1 L1187.0,1213.0 L1188.0,1213.8 L1189.0,1214.7 L1190.0,1214.0 L1191.0,1214.4 L1192.0,1214.3 L1193.0,1214.4 L1194.0,1213.1 L1195.0,1210.0 L1196.0,1213.0 L1197.0,1210.0 L1198.0,1210.9 L1199.0,1209.5 L1200.0,1210.8 L1201.0,1207.8 L1202.0,1207.6 L1203.0,1207.1 L1204.0,1206.2 L1205.0,1207.5 L1206.0,1209.6 L1207.1,1208.3 L1208.1,1207.3 L1209.2,1207.8 L1210.2,1210.9 L1211.2,1208.8 L1212.3,1207.6 L1213.3,1210.7 L1214.4,1210.1 L1215.4,1212.0 L1216.5,1207.9 L1217.5,1210.0 L1218.5,1209.5 L1219.6,1210.7 L1220.6,1210.4 L1221.7,1210.4 L1222.7,1205.7 L1223.8,1206.5 L1224.8,1205.2 L1225.8,1205.1 L1226.9,1208.6 L1227.9,1206.2 L1229.0,1207.5 L1230.0,1205.0 L1231.0,1204.9 L1232.0,1207.8 L1233.0,1206.2 L1234.0,1205.8 L1235.0,1208.9 L1236.0,1210.2 L1237.0,1206.6 L1238.0,1209.5 L1239.0,1210.1 L1240.0,1208.6 L1241.0,1209.9 L1242.0,1209.3 L1243.0,1210.1 L1244.0,1210.8 L1245.0,1212.5 L1246.0,1212.3 L1247.0,1211.9 L1248.0,1209.1 L1249.0,1207.6 L1250.0,1208.4 L1251.0,1209.5 L1252.0,1208.0 L1253.2,1202.4 L1254.3,1200.0 L1254.6,1134.0 L1256.7,1112.0 L1258.8,1134.0 L1259.1,1212.0 L1260.3,1215.1 L1261.5,1220.0 L1262.7,1219.5 L1263.8,1223.0 L1265.0,1222.5 L1266.0,1222.6 L1267.0,1220.3 L1268.0,1220.4 L1269.0,1221.6 L1270.0,1222.2 L1271.0,1222.5 L1272.0,1219.9 L1273.0,1220.2 L1274.0,1222.5 L1275.0,1221.1 L1276.0,1220.4 L1277.0,1220.4 L1278.0,1223.3 L1279.0,1220.2 L1280.0,1221.0 L1281.0,1221.0 L1282.0,1219.7 L1283.0,1219.6 L1284.0,1221.3 L1285.0,1221.6 L1286.0,1218.4 L1287.0,1217.3 L1288.0,1219.4 L1289.0,1216.6 L1290.0,1215.4 L1291.0,1219.2 L1292.0,1216.6 L1293.0,1218.2 L1294.0,1215.9 L1295.0,1216.0 L1296.0,1217.7 L1297.0,1215.7 L1298.0,1214.2 L1299.0,1213.4 L1300.0,1215.9 L1301.0,1216.3 L1302.0,1217.5 L1303.0,1213.5 L1304.0,1216.0 L1305.0,1214.7 L1306.0,1215.3 L1307.0,1213.5 L1308.0,1214.1 L1309.0,1215.2 L1310.0,1215.0 L1311.0,1216.7 L1312.0,1212.5 L1313.0,1214.0 L1314.0,1215.1 L1315.0,1215.6 L1316.0,1211.6 L1317.0,1210.9 L1318.0,1214.5 L1319.0,1214.3 L1320.0,1211.6 L1321.0,1209.2 L1322.0,1213.1 L1323.0,1210.1 L1324.0,1212.3 L1325.0,1210.0 L1326.0,1210.3 L1327.0,1211.0 L1328.0,1207.5 L1329.0,1210.3 L1330.0,1207.3 L1331.0,1207.9 L1332.0,1209.8 L1333.0,1209.5 L1334.0,1206.0 L1335.0,1205.9 L1336.0,1206.6 L1337.0,1206.9 L1338.0,1206.0 L1339.0,1204.4 L1340.0,1206.0 L1341.0,1204.5 L1342.0,1206.6 L1343.0,1207.3 L1344.0,1202.8 L1345.0,1205.1 L1346.0,1205.9 L1347.0,1202.1 L1348.0,1205.8 L1349.0,1202.0 L1350.0,1204.2 L1351.0,1203.7 L1352.0,1203.8 L1353.0,1202.0 L1354.0,1202.3 L1355.0,1202.5 L1356.0,1202.6 L1357.1,1201.5 L1358.1,1202.4 L1359.1,1201.1 L1360.1,1200.7 L1361.2,1198.3 L1362.2,1201.0 L1363.2,1200.1 L1364.3,1198.5 L1365.3,1200.9 L1366.3,1200.7 L1367.4,1198.8 L1368.4,1197.0 L1369.4,1198.2 L1370.4,1196.1 L1371.5,1195.9 L1372.5,1197.5 L1373.5,1196.5 L1374.5,1194.1 L1375.5,1195.3 L1376.5,1195.0 L1377.5,1191.9 L1378.5,1194.4 L1379.5,1190.9 L1380.5,1193.7 L1381.5,1193.3 L1382.5,1191.2 L1383.5,1188.2 L1384.5,1189.9 L1385.5,1188.6 L1386.5,1191.0 L1387.5,1188.0 L1388.5,1187.8 L1389.5,1193.3 L1390.5,1195.7 L1391.5,1196.0 L1392.5,1198.1 L1393.5,1196.6 L1394.5,1202.3 L1395.5,1201.6 L1396.5,1205.6 L1397.5,1205.0 L1398.6,1207.8 L1399.6,1204.8 L1400.7,1208.6 L1401.8,1210.0 L1402.9,1206.5 L1403.9,1208.6 L1405.0,1210.0 L1406.0,1210.6 L1407.0,1207.0 L1408.0,1209.9 L1409.0,1206.2 L1410.0,1208.2 L1411.0,1206.0 L1412.5,1200.2 L1413.9,1198.0 L1414.2,1017.6 L1415.9,995.6 L1417.6,1017.6 L1417.9,1210.0 L1419.2,1214.5 L1420.5,1219.0 L1421.6,1221.8 L1422.8,1219.4 L1423.9,1220.5 L1425.0,1222.5 L1426.1,1222.5 L1427.1,1221.7 L1428.2,1220.4 L1429.3,1221.1 L1430.4,1221.0 L1431.4,1224.5 L1432.5,1222.5 L1433.6,1222.3 L1434.6,1222.2 L1435.7,1217.8 L1436.8,1219.5 L1437.9,1215.3 L1438.9,1216.2 L1440.0,1215.0 L1441.0,1215.8 L1442.0,1214.7 L1443.0,1217.3 L1444.0,1215.9 L1445.0,1216.2 L1446.0,1217.8 L1447.0,1214.3 L1448.0,1218.6 L1449.0,1217.1 L1450.0,1216.2 L1451.0,1218.2 L1452.0,1215.9 L1453.0,1219.5 L1454.0,1217.7 L1455.0,1217.5 L1456.0,1216.5 L1457.0,1218.0 L1458.0,1216.2 L1459.0,1214.6 L1460.0,1216.9 L1461.0,1213.3 L1462.0,1216.6 L1463.0,1213.5 L1464.0,1215.0 L1465.0,1214.0 L1466.0,1216.4 L1467.0,1214.6 L1468.0,1215.1 L1469.0,1213.5 L1470.0,1212.1 L1471.0,1212.4 L1472.0,1213.0 L1473.0,1215.3 L1474.0,1214.6 L1475.0,1215.0 L1476.0,1215.5 L1477.0,1217.7 L1478.0,1214.5 L1479.0,1215.3 L1480.0,1217.7 L1481.0,1215.2 L1482.0,1215.5 L1483.0,1217.5 L1484.0,1216.8 L1485.0,1219.0 L1486.1,1217.6 L1487.1,1216.3 L1488.2,1217.2 L1489.3,1216.6 L1490.4,1214.0 L1491.4,1215.3 L1492.5,1214.0 L1493.6,1211.9 L1494.6,1208.2 L1495.7,1208.0 L1496.0,1185.2 L1497.2,1173.2 L1498.4,1185.2 L1498.7,1210.0 L1500.0,1214.4 L1501.2,1213.5 L1502.5,1217.0 L1503.6,1215.9 L1504.6,1216.3 L1505.7,1219.4 L1506.8,1221.0 L1507.9,1221.2 L1508.9,1220.0 L1510.0,1221.0 L1511.0,1220.1 L1512.0,1219.1 L1513.0,1222.1 L1514.0,1221.9 L1515.0,1221.1 L1516.0,1222.6 L1517.0,1221.8 L1518.0,1224.2 L1519.0,1223.4 L1520.0,1222.5 L1521.0,1220.9 L1522.0,1223.3 L1523.0,1218.9 L1524.0,1220.6 L1525.0,1219.6 L1526.0,1218.3 L1527.0,1217.0 L1528.0,1219.8 L1529.0,1215.7 L1530.0,1217.5 L1531.0,1216.9 L1532.0,1217.9 L1533.0,1213.3 L1534.0,1212.7 L1535.0,1213.8 L1536.0,1212.5 L1537.1,1213.8 L1538.2,1215.7 L1539.2,1217.7 L1540.3,1216.0 L1541.4,1217.9 L1542.5,1220.0 L1543.5,1219.2 L1544.6,1218.1 L1545.6,1222.0 L1546.7,1221.6 L1547.7,1221.4 L1548.8,1218.2 L1549.8,1222.2 L1550.8,1221.8 L1551.9,1220.6 L1552.9,1221.9 L1554.0,1220.7 L1555.0,1221.0 L1556.0,1220.2 L1557.1,1220.0 L1558.1,1221.0 L1559.2,1220.6 L1560.2,1222.3 L1561.2,1224.6 L1562.3,1224.8 L1563.3,1225.9 L1564.4,1225.7 L1565.4,1224.1 L1566.5,1225.8 L1567.5,1226.0 L1568.5,1226.0 L1569.5,1227.9 L1570.5,1227.0 L1571.5,1226.2 L1572.5,1228.1 L1573.5,1229.9 L1574.5,1226.9 L1575.5,1230.1 L1576.5,1226.6 L1577.5,1229.0 L1578.6,1227.2 L1579.8,1226.3 L1580.9,1227.8 L1582.0,1226.0 L1583.0,1226.0 L1584.1,1223.1 L1585.1,1220.0 L1585.4,1165.8 L1586.6,1150.8 L1587.8,1165.8 L1588.1,1230.0 L1589.5,1232.8 L1591.0,1237.0 L1592.0,1239.3 L1593.0,1237.8 L1594.0,1238.2 L1595.0,1240.0 L1596.0,1241.3 L1597.0,1239.7 L1598.0,1239.6 L1599.0,1239.1 L1600.0,1240.0 L1601.0,1237.5 L1602.0,1238.6 L1603.0,1237.6 L1604.0,1237.9 L1605.0,1236.0 L1606.1,1236.2 L1607.1,1237.8 L1608.2,1237.6 L1609.3,1236.9 L1610.4,1236.9 L1611.4,1239.1 L1612.5,1239.0 L1613.6,1236.4 L1614.7,1239.1 L1615.8,1235.0 L1616.8,1233.7 L1617.9,1233.2 L1619.0,1234.0 L1620.0,1237.6 L1621.0,1237.0 L1622.0,1238.0 L1623.0,1239.4 L1624.0,1241.3 L1625.0,1245.0 L1626.1,1246.8 L1627.1,1247.7 L1628.2,1249.0 L1629.3,1250.2 L1630.4,1248.7 L1631.4,1251.8 L1632.5,1252.5 L1633.5,1251.6 L1634.5,1252.9 L1635.5,1252.5 L1636.5,1252.3 L1637.5,1248.8 L1638.5,1250.0 L1640.7,1222.0 L1642.5,1214.5 L1643.5,1220.0 L1644.5,1222.0 L1647.5,1247.5 L1648.5,1251.4 L1649.5,1253.8 L1650.5,1252.9 L1651.5,1255.6 L1652.5,1259.0 L1653.5,1258.0 L1654.5,1258.0 L1655.5,1261.3 L1656.5,1261.5 L1657.5,1261.2 L1658.5,1262.2 L1659.5,1261.9 L1660.5,1261.1 L1661.5,1260.7 L1662.5,1262.5 L1663.5,1261.1 L1664.6,1263.4 L1665.6,1261.5 L1666.7,1261.9 L1667.7,1262.2 L1668.8,1260.8 L1669.8,1261.6 L1670.8,1261.7 L1671.9,1263.3 L1672.9,1262.0 L1674.0,1261.9 L1675.0,1262.5 L1676.1,1264.8 L1677.1,1263.9 L1678.2,1265.8 L1679.3,1265.8 L1680.4,1264.5 L1681.4,1266.5 L1682.5,1267.5 L1683.6,1269.4 L1684.6,1272.7 L1685.7,1273.4 L1686.8,1276.7 L1687.9,1278.3 L1688.9,1279.5 L1690.0,1282.5 L1691.1,1284.9 L1692.1,1284.2 L1693.2,1287.6 L1694.3,1287.3 L1695.3,1288.3 L1696.4,1291.0 L1697.6,1287.4 L1698.7,1286.2 L1699.8,1284.1 L1701.0,1280.0 L1702.0,1274.7 L1703.1,1272.5 L1704.2,1268.7 L1705.2,1265.0 L1705.5,1229.3 L1708.4,1204.3 L1711.3,1229.3 L1711.6,1275.0 L1713.5,1295.0 L1714.8,1300.2 L1716.0,1304.0 L1717.0,1304.6 L1718.0,1306.5 L1719.0,1307.5 L1720.0,1309.0 L1721.0,1309.8 L1722.0,1309.0 L1723.0,1310.4 L1724.0,1309.4 L1725.0,1309.5 L1726.0,1310.6 L1727.0,1310.4 L1728.0,1309.9 L1729.0,1311.0 L1730.0,1311.0 L1731.0,1310.3 L1732.1,1311.6 L1733.1,1311.5 L1734.2,1311.7 L1735.2,1311.4 L1736.2,1311.0 L1737.3,1311.1 L1738.3,1311.1 L1739.4,1312.1 L1740.4,1310.7 L1741.5,1312.1 L1742.5,1311.5 L1743.5,1310.9 L1744.6,1311.4 L1745.6,1311.7 L1746.7,1313.0 L1747.7,1312.5 L1748.8,1312.5 L1749.8,1313.6 L1750.8,1312.7 L1751.9,1313.3 L1752.9,1313.6 L1754.0,1314.2 L1755.0,1314.0 L1756.0,1314.5 L1757.1,1314.4 L1758.1,1314.0 L1759.2,1314.0 L1760.2,1313.9 L1761.2,1315.1 L1762.3,1314.8 L1763.3,1315.1 L1764.4,1314.2 L1765.4,1314.7 L1766.5,1315.4 L1767.5,1315.0 L1768.5,1314.8 L1769.6,1313.7 L1770.6,1313.8 L1771.7,1314.2 L1772.7,1312.7 L1773.8,1312.3 L1774.8,1312.1 L1775.9,1312.4 L1776.9,1312.3 L1778.0,1310.7 L1779.0,1311.0 L1780.1,1311.2 L1781.1,1312.2 L1782.2,1313.1 L1783.2,1314.3 L1784.3,1314.5 L1785.4,1315.6 L1786.4,1316.2 L1787.5,1317.5 L1788.5,1318.7 L1789.5,1318.8 L1790.5,1318.4 L1791.5,1320.1 L1792.5,1319.5 L1793.5,1320.3 L1794.5,1321.6 L1795.5,1321.9 L1796.5,1322.3 L1797.5,1322.5 L1798.5,1322.6 L1799.5,1322.6 L1800.5,1323.3 L1801.5,1322.9 L1802.5,1323.2 L1803.5,1323.7 L1804.5,1324.0 L1805.8,1320.4 L1807.2,1318.0 L1807.9,1300.0 L1808.8,1278.3 L1809.6,1300.0 L1810.5,1325.0 L1812.5,1334.0 L1813.5,1337.0" fill="none" stroke="#79219f" stroke-width="8.6" stroke-linejoin="round" stroke-linecap="round"/>
<path d="M771.5,72 H881.5" stroke="#000" stroke-width="7.6" stroke-linecap="round"/>
<path d="M771.5,176 H881.5" stroke="#79219f" stroke-width="7.8" stroke-linecap="round"/>
</g>
</svg>
</body></html>
